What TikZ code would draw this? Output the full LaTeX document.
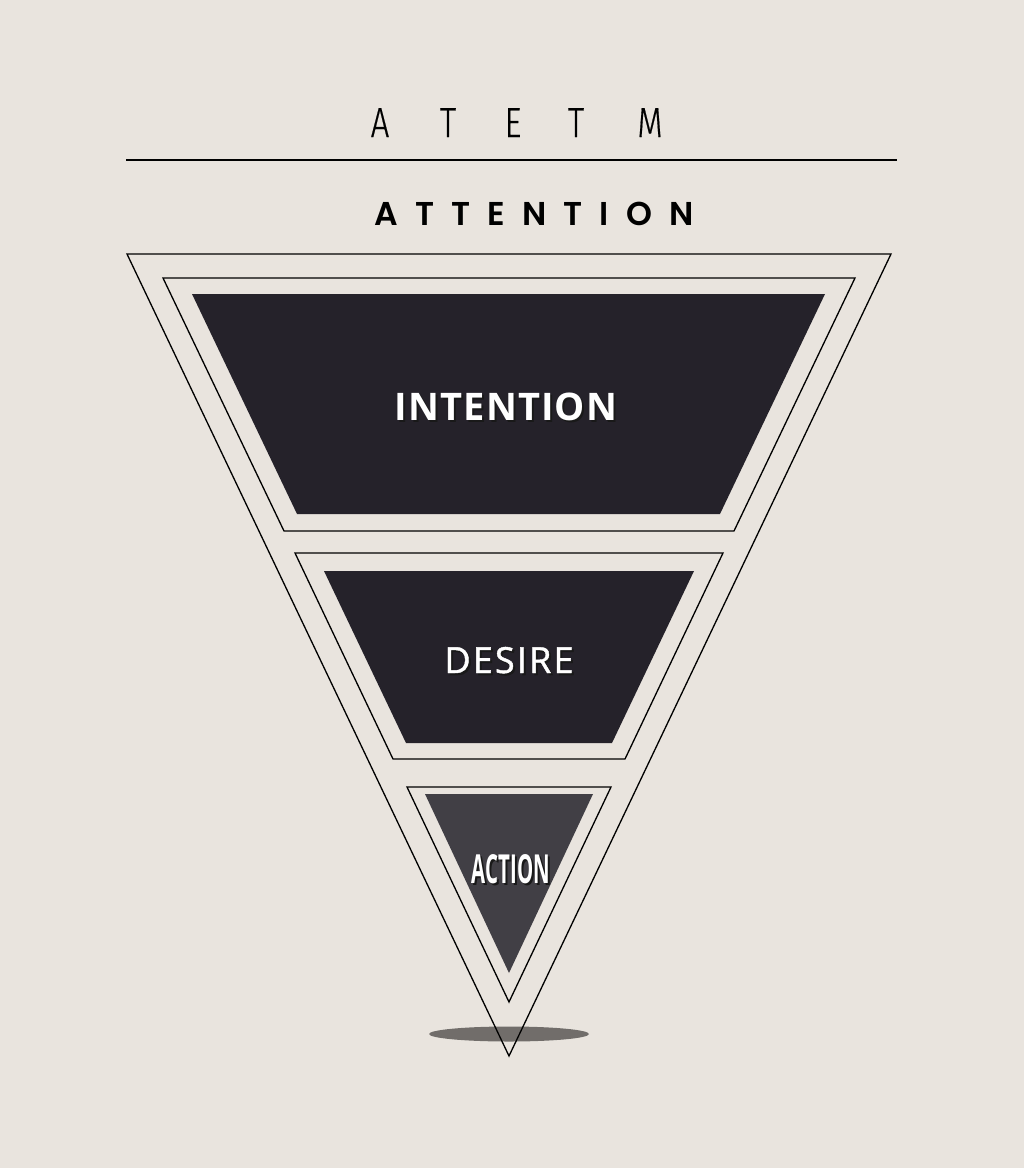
\documentclass[tikz,border=0pt]{standalone}
\usepackage{fontspec}
\newfontfamily\thinfont{Fira Sans}[UprightFont=* Light, FakeStretch=0.78, FakeBold=0.4]
\newfontfamily\geofont{Poppins}[UprightFont=* SemiBold, LetterSpace=52]
\newfontfamily\labelfont{Open Sans}[LetterSpace=3]
\newfontfamily\midfont{Open Sans}[LetterSpace=6, FakeBold=1.2]
\newfontfamily\narrowfont{Open Sans}[FakeStretch=0.51]
\definecolor{paper}{HTML}{E9E4DE}
\definecolor{ink}{HTML}{25222A}
\definecolor{slate}{HTML}{413F45}
\definecolor{puddle}{HTML}{716D6A}

\begin{document}
\begin{tikzpicture}[x=1pt,y=-1pt,
  outline/.style={draw=black,line width=1.3pt,line join=miter},
  word/.style={text=white,inner sep=0pt,anchor=base},
  shade/.style={text=black!90,inner sep=0pt,anchor=base}]
\fill[paper] (0,0) rectangle (1024,1168);
\useasboundingbox (0,0) rectangle (1024,1168);

% heading
\foreach \ch/\x [count=\i] in {A/380,T/448,E/513,T/576,M/650}
  \node[inner sep=0pt,anchor=base] (head\i) at (\x,137) {\thinfont\fontsize{42}{42}\selectfont \ch};
\coordinate (ruleL) at (126,160);
\coordinate (ruleR) at (897,160);
\draw[line width=1.3pt] (ruleL) -- (ruleR);
\node[inner sep=0pt,anchor=base] (attention) at (534,225) {\geofont\fontsize{33}{33}\selectfont ATTENTION};

% shadow under the tip
\fill[puddle] (509,1034) ellipse (80 and 7.5);

% funnel
\draw[outline] (127,254) -- (891,254) -- (509,1056) -- cycle;

\draw[outline] (163,278) -- (855,278) -- (734,531) -- (284,531) -- cycle;
\fill[ink] (192,294) -- (825,294) -- (720,514) -- (297,514) -- cycle;

\draw[outline] (295,553) -- (723,553) -- (625,759) -- (393,759) -- cycle;
\fill[ink] (324,571) -- (694,571) -- (612,743) -- (406,743) -- cycle;

\draw[outline] (407,787) -- (611,787) -- (509,1002) -- cycle;
\fill[slate] (425,794) -- (593,794) -- (509,973) -- cycle;

% labels
\node[shade] (intentionS) at (508,422) {\labelfont\bfseries\fontsize{38}{38}\selectfont INTENTION};
\node[word] (intention) at (506,420) {\labelfont\bfseries\fontsize{38}{38}\selectfont INTENTION};
\node[shade] (desireS) at (511,675) {\midfont\fontsize{36}{36}\selectfont DESIRE};
\node[word] (desire) at (509,673) {\midfont\fontsize{36}{36}\selectfont DESIRE};
\node[shade] (actionS) at (513,885) {\narrowfont\bfseries\fontsize{40}{40}\selectfont ACTION};
\node[word] (action) at (511,883) {\narrowfont\bfseries\fontsize{40}{40}\selectfont ACTION};
\end{tikzpicture}
\end{document}
